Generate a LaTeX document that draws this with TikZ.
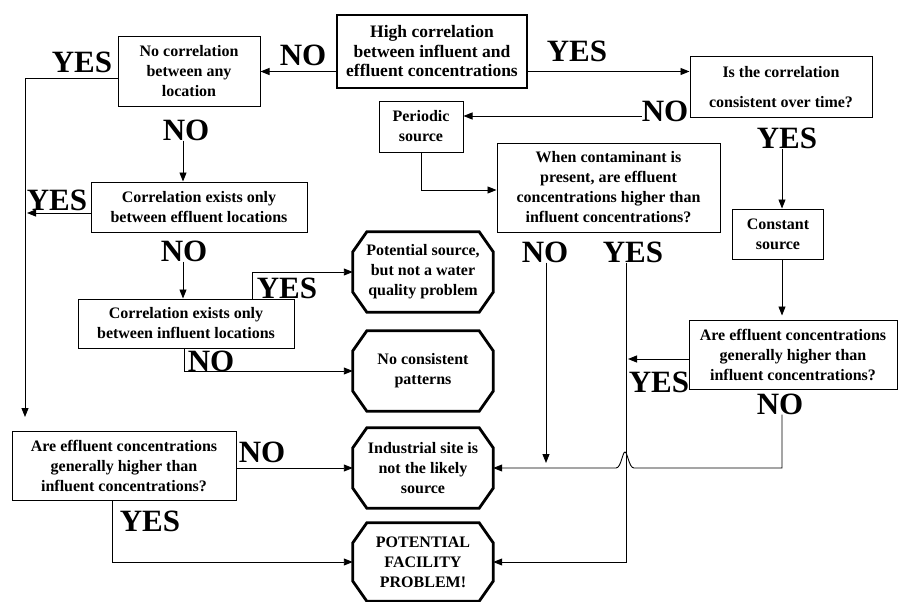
\documentclass[tikz,border=0pt]{standalone}
\usepackage{fontspec}
\setmainfont{Liberation Serif}
\usetikzlibrary{arrows.meta}
\begin{document}
\begin{tikzpicture}[x=1pt,y=-1pt,
  box/.style={draw, line width=1pt, align=center, inner sep=0pt, font=\fontsize{16}{20}\selectfont\bfseries},
  thickbox/.style={box, line width=2.6pt, font=\fontsize{17.5}{19.5}\selectfont\bfseries},
  oct/.style={align=center, inner sep=0pt, minimum width=140pt, minimum height=80pt, font=\fontsize{16}{20}\selectfont\bfseries},
  octline/.style={line width=2.8pt, line join=miter},
  lab/.style={inner sep=0pt, font=\fontsize{31}{31}\selectfont\bfseries},
  arr/.style={line width=0.9pt, -{Triangle[length=9pt,width=7pt]}}]
\useasboundingbox (0,0) rectangle (899,602);

% boxes
\node[thickbox, minimum width=190pt, minimum height=73pt] (hc) at (432,51.5) {High correlation\\between influent and\\effluent concentrations};
\node[box, minimum width=142pt, minimum height=69pt] (nc) at (189,71.5) {No correlation\\between any\\location};
\node[box, minimum width=182pt, minimum height=60pt] (ic) at (781,87) {Is the correlation\\[10pt]consistent over time?};
\node[box, minimum width=84pt, minimum height=51pt] (ps) at (421,126.5) {Periodic\\source};
\node[box, minimum width=223pt, minimum height=89pt] (wc) at (608.5,187.5) {When contaminant is\\present, are effluent\\concentrations higher than\\influent concentrations?};
\node[box, minimum width=91pt, minimum height=50pt] (cs) at (778,234) {Constant\\source};
\node[box, minimum width=208pt, minimum height=69pt] (rae) at (793,354.5) {Are effluent concentrations\\generally higher than\\influent concentrations?};
\node[box, minimum width=216pt, minimum height=50pt] (ce) at (199,207) {Correlation exists only\\between effluent locations};
\node[box, minimum width=216pt, minimum height=49pt] (ci) at (186,323.5) {Correlation exists only\\between influent locations};
\node[box, minimum width=224pt, minimum height=69pt] (lae) at (124,465.5) {Are effluent concentrations\\generally higher than\\influent concentrations?};

% octagons
\node[oct] (oa) at (423,272) {Potential source,\\but not a water\\quality problem};
\node[oct] (ob) at (423,371) {No consistent\\patterns};
\node[oct] (oc) at (423,468) {Industrial site is\\not the likely\\source};
\node[oct, minimum height=78pt] (od) at (423,562) {POTENTIAL\\FACILITY\\PROBLEM!};
\foreach \n in {oa,ob,oc,od}
  \draw[octline] ([xshift=14pt]\n.north west) -- ([xshift=-14pt]\n.north east)
    -- ([yshift=-20pt]\n.north east) -- ([yshift=20pt]\n.south east)
    -- ([xshift=-14pt]\n.south east) -- ([xshift=14pt]\n.south west)
    -- ([yshift=20pt]\n.south west) -- ([yshift=-20pt]\n.north west) -- cycle;

% labels
\node[lab] (no1) at (303,55) {NO};
\node[lab] (yes1) at (82,62) {YES};
\node[lab] (yes2) at (577,51) {YES};
\node[lab] (no2) at (665,111) {NO};
\node[lab] (yes3) at (787,138) {YES};
\node[lab] (no3) at (186,130) {NO};
\node[lab] (yes4) at (57,200) {YES};
\node[lab] (no4) at (184,251) {NO};
\node[lab] (yes5) at (287,288) {YES};
\node[lab] (no5) at (211,361) {NO};
\node[lab] (no6) at (545,252) {NO};
\node[lab] (yes6) at (633,252) {YES};
\node[lab] (yes7) at (659,382) {YES};
\node[lab] (no7) at (780,404) {NO};
\node[lab] (no8) at (262,452) {NO};
\node[lab] (yes8) at (150,521) {YES};

% helper coordinates
\coordinate (c1) at (0,116);
\coordinate (d1) at (0,190);
\coordinate (e1) at (25,78);
\coordinate (e2) at (25,417);
\coordinate (g1) at (27,213);
\coordinate (f1) at (183,0);
\coordinate (i1) at (252,0);
\coordinate (j1) at (184,0);
\coordinate (l1) at (112,0);
\coordinate (m1) at (546,0);
\coordinate (m2) at (546,463);
\coordinate (n1) at (626,0);
\coordinate (o1) at (628,359);
\coordinate (p1) at (782,0);
\coordinate (p2) at (782,468);
\coordinate (hopR) at (634,468);
\coordinate (hopL) at (616,468);

% connectors
\draw[arr] (hc.west |- nc.east) -- (nc.east);
\draw[arr] (hc.east |- nc.east) -- (ic.west |- nc.east);
\draw[arr] (no2.west |- c1) -- (ps.east |- c1);
\draw[arr] (ps.south) |- (wc.west |- d1);
\draw[arr] (nc.west |- e1) -- (e1) -- (e2);
\draw[arr] (no3.south -| f1) -- (ce.north -| f1);
\draw[arr] (ce.west |- g1) -- (g1);
\draw[arr] (no4.south -| f1) -- (ci.north -| f1);
\draw[arr] (ci.north -| i1) |- (oa.west);
\draw[arr] (ci.south -| j1) |- (ob.west);
\draw[arr] (lae.east |- oc.west) -- (oc.west);
\draw[arr] (lae.south -| l1) |- (od.west);
\draw[arr] (no6.south -| m1) -- (m2);
\draw[arr] (yes6.south -| n1) |- (od.east);
\draw[arr] (rae.west |- o1) -- (o1);
\draw[arr] (no7.south -| p1) -- (p2) -- (hopR)
   .. controls (629,468) and (627.5,452) .. (625,452)
   .. controls (622.5,452) and (621,468) .. (hopL) -- (oc.east);
\draw[arr] (yes3.south -| p1) -- (cs.north -| p1);
\draw[arr] (cs.south -| p1) -- ([yshift=4pt]rae.north -| p1);
\end{tikzpicture}
\end{document}
